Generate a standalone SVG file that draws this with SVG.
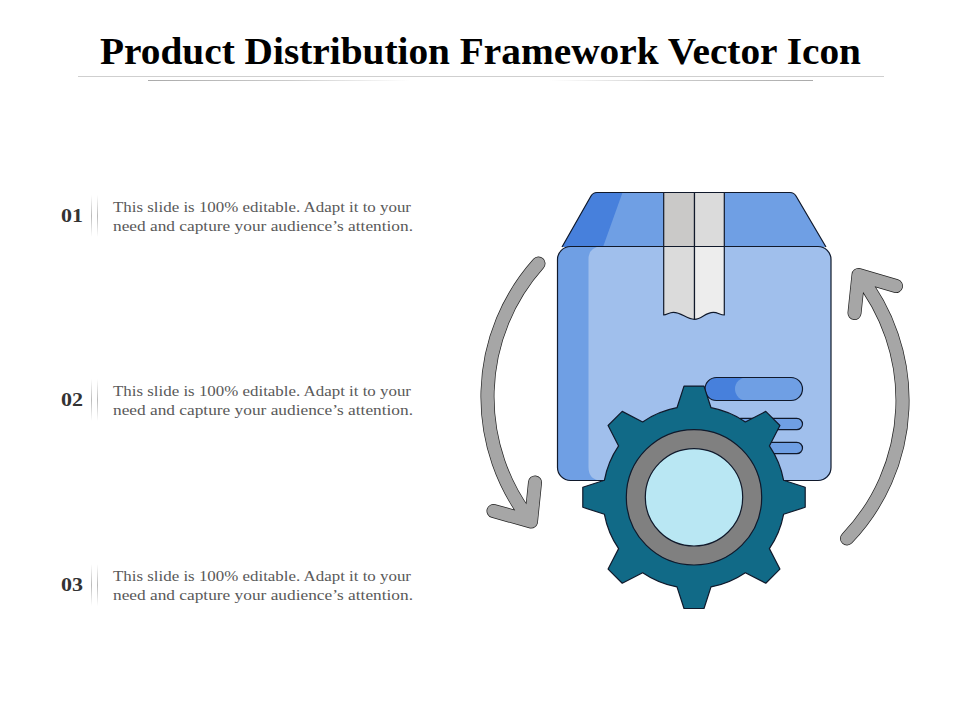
<svg xmlns="http://www.w3.org/2000/svg" width="960" height="720" viewBox="0 0 960 720">
<style>
.title{font-family:"Liberation Serif",serif;font-weight:700;font-size:37.5px;fill:#000}
.num{font-family:"Liberation Serif",serif;font-weight:700;font-size:19px;fill:#333}
.body{font-family:"Liberation Serif",serif;font-size:15.5px;fill:#595959}
.ol{stroke:#10192b;stroke-width:1.2;stroke-linejoin:round}
.aout{fill:none;stroke:#222;stroke-width:14;stroke-linecap:round;stroke-linejoin:round}
.ain{fill:none;stroke:#a6a6a6;stroke-width:12.6;stroke-linecap:round;stroke-linejoin:round}
</style>
<defs>
<linearGradient id="v" x1="0" y1="0" x2="0" y2="1"><stop offset="0" stop-color="#bbb" stop-opacity="0"/><stop offset=".5" stop-color="#bbb"/><stop offset="1" stop-color="#bbb" stop-opacity="0"/></linearGradient>
<linearGradient id="hl" x1="0" y1="0" x2="1" y2="0"><stop offset="0" stop-color="#aaa"/><stop offset=".55" stop-color="#ccc"/><stop offset="1" stop-color="#ccc" stop-opacity="0"/></linearGradient>
<linearGradient id="hr" x1="0" y1="0" x2="1" y2="0"><stop offset="0" stop-color="#ccc" stop-opacity="0"/><stop offset=".45" stop-color="#ccc"/><stop offset="1" stop-color="#aaa"/></linearGradient>
<g id="sep"><rect x="91" y="0" width="1" height="42" fill="url(#v)"/><rect x="97" y="0" width="1" height="42" fill="url(#v)"/></g>
<path id="la" d="M538.5 263.5A200 200 0 0 0 531 521.5M493.5 511L531 521.5L535 482.5"/>
<path id="ra" d="M847 538.5A200 200 0 0 0 858.5 275M854.5 313L858.5 275L896 286"/>
</defs>
<g id="header">
<text class="title" x="100" y="63.5" textLength="761" lengthAdjust="spacingAndGlyphs">Product Distribution Framework Vector Icon</text>
<rect x="78" y="76" width="806" height="1" fill="#cfcfcf"/>
<rect x="148" y="80" width="262" height="1" fill="url(#hl)"/>
<rect x="550" y="80" width="263" height="1" fill="url(#hr)"/>
</g>
<g id="item-01">
<text class="num" x="61" y="222" textLength="22" lengthAdjust="spacingAndGlyphs">01</text>
<use href="#sep" y="195"/>
<text class="body" x="113" y="212" textLength="298" lengthAdjust="spacingAndGlyphs">This slide is 100% editable. Adapt it to your</text>
<text class="body" x="113" y="231" textLength="300" lengthAdjust="spacingAndGlyphs">need and capture your audience’s attention.</text>
</g>
<g id="item-02">
<text class="num" x="61" y="406" textLength="22" lengthAdjust="spacingAndGlyphs">02</text>
<use href="#sep" y="379"/>
<text class="body" x="113" y="396" textLength="298" lengthAdjust="spacingAndGlyphs">This slide is 100% editable. Adapt it to your</text>
<text class="body" x="113" y="415" textLength="300" lengthAdjust="spacingAndGlyphs">need and capture your audience’s attention.</text>
</g>
<g id="item-03">
<text class="num" x="61" y="591" textLength="22" lengthAdjust="spacingAndGlyphs">03</text>
<use href="#sep" y="564"/>
<text class="body" x="113" y="581" textLength="298" lengthAdjust="spacingAndGlyphs">This slide is 100% editable. Adapt it to your</text>
<text class="body" x="113" y="600" textLength="300" lengthAdjust="spacingAndGlyphs">need and capture your audience’s attention.</text>
</g>
<g id="box">
<path d="M562 247L591 196Q593 192.5 597 192.5H790Q794 192.5 796 196L826 247Z" fill="#6f9fe4"/>
<path d="M562 247L591 196Q593 192.5 597 192.5H622.5L603 247Z" fill="#4780dc"/>
<path class="ol" fill="none" d="M562 247L591 196Q593 192.5 597 192.5H790Q794 192.5 796 196L826 247"/>
<rect x="557.5" y="246.5" width="273.5" height="234" rx="13" fill="#6f9fe4"/>
<path d="M831 259.5V467.5Q831 480.5 818 480.5H602Q588.5 480.5 588.5 467V259.5Q588.5 246.5 602 246.5H818Q831 246.5 831 259.5Z" fill="#a0bfec"/>
<rect class="ol" x="557.5" y="246.5" width="273.5" height="234" rx="13" fill="none"/>
<g class="ol">
<rect x="663.7" y="192.5" width="30.8" height="54" fill="#cac9c8"/>
<rect x="694.5" y="192.5" width="29.8" height="54" fill="#dbdbdb"/>
<path d="M663.7 246.5H694.5V319.3C686 319.3 682 312.3 673.3 312.3C669 312.3 667 315 663.7 315Z" fill="#dbdbdb"/>
<path d="M694.5 246.5H724.3V315C720 315 718 312.3 713.3 312.3C705 312.3 702 319.3 694.5 319.3Z" fill="#ededed"/>
</g>
<g id="box-labels">
<rect x="705" y="377.5" width="97.5" height="23" rx="11.5" fill="#4780dc"/>
<rect x="735" y="377.5" width="67.5" height="23" rx="11.5" fill="#6f9fe4"/>
<rect class="ol" x="705" y="377.5" width="97.5" height="23" rx="11.5" fill="none"/>
<rect class="ol" x="735" y="418.3" width="67.5" height="11.4" rx="5.7" fill="#6f9fe4"/>
<rect class="ol" x="735" y="442.3" width="67.5" height="11.4" rx="5.7" fill="#6f9fe4"/>
</g>
</g>
<g id="gear" transform="translate(694 497.3)">
<path class="ol" fill="#116a87" d="M-17 -89.6L-10 -111.2H10L17 -89.6A91.2 91.2 0 0 1 51.34 -75.38L71.77 -85.91L85.91 -71.77L75.38 -51.34A91.2 91.2 0 0 1 89.6 -17L111.2 -10V10L89.6 17A91.2 91.2 0 0 1 75.38 51.34L85.91 71.77L71.77 85.91L51.34 75.38A91.2 91.2 0 0 1 17 89.6L10 111.2H-10L-17 89.6A91.2 91.2 0 0 1 -51.34 75.38L-71.77 85.91L-85.91 71.77L-75.38 51.34A91.2 91.2 0 0 1 -89.6 17L-111.2 10V-10L-89.6 -17A91.2 91.2 0 0 1 -75.38 -51.34L-85.91 -71.77L-71.77 -85.91L-51.34 -75.38A91.2 91.2 0 0 1 -17 -89.6Z"/>
<circle class="ol" r="67.7" fill="#808080"/>
<circle class="ol" r="48.7" fill="#b9e7f3"/>
</g>
<g id="connectors">
<g id="arrow-left"><use href="#la" class="aout"/><use href="#la" class="ain"/></g>
<g id="arrow-right"><use href="#ra" class="aout"/><use href="#ra" class="ain"/></g>
</g>
</svg>
